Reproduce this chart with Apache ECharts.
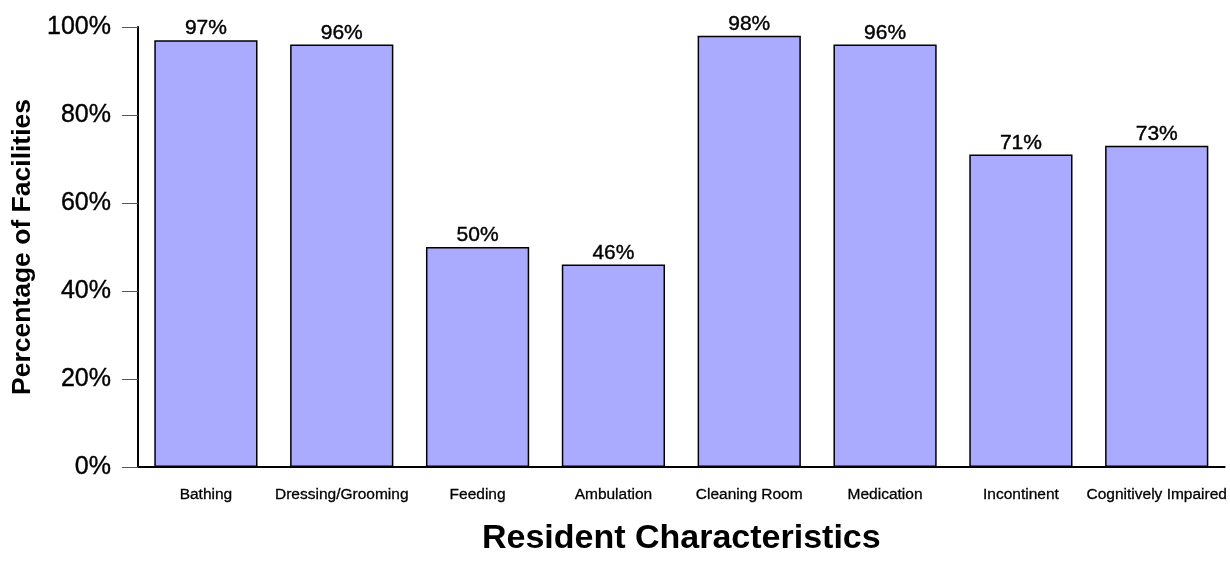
<!DOCTYPE html>
<html><head><meta charset="utf-8">
<script src="https://cdn.jsdelivr.net/npm/echarts@6/dist/echarts.min.js"></script>
<style>html,body{margin:0;padding:0;background:#fff}#c{width:1230px;height:561px}</style>
</head><body><div id="c"></div>
<script>
const categories = ["Bathing","Dressing/Grooming","Feeding","Ambulation","Cleaning Room","Medication","Incontinent","Cognitively Impaired"];
const values = [97,96,50,46,98,96,71,73];
const yTicks = [0,20,40,60,80,100];
const FONT = "'Liberation Sans', Arial, sans-serif";
const chart = echarts.init(document.getElementById('c'), null, {width:1230, height:561});
chart.setOption({
  animation:false,
  grid:{left:138,width:1088,top:27,height:451,containLabel:false},
  xAxis:{
    type:'category', data:categories,
    name:'Resident Characteristics', nameLocation:'middle', nameGap:55,
    nameTextStyle:{fontFamily:FONT,fontSize:34,fontWeight:'bold',color:'#000'},
    axisLine:{lineStyle:{color:'#000',width:2}},
    axisTick:{alignWithLabel:true,length:10,lineStyle:{color:'#555',width:1}},
    axisLabel:{fontFamily:FONT,fontSize:15.5,color:'#000',margin:20,interval:0,
      textBorderColor:'#000',textBorderWidth:0.3}
  },
  yAxis:{
    type:'value', min:0, max:100, interval:20,
    name:'Percentage of Facilities', nameLocation:'middle', nameGap:101,
    nameTextStyle:{fontFamily:FONT,fontSize:26.5,fontWeight:'bold',color:'#000'},
    axisLine:{show:true,lineStyle:{color:'#000',width:2}},
    axisTick:{show:true,length:16,lineStyle:{color:'#555',width:1}},
    splitLine:{show:false},
    axisLabel:{fontFamily:FONT,fontSize:25,color:'#000',margin:27,
      textBorderColor:'#000',textBorderWidth:0.4,
      formatter:function(v){return yTicks.indexOf(v)>=0? v+'%':'';}}
  },
  series:[{
    type:'bar', data:values, barWidth:'76%',
    itemStyle:{color:'#aaaaff',borderColor:'#000',borderWidth:1.5},
    label:{show:true,position:'top',distance:1,fontFamily:FONT,fontSize:21,color:'#000',
      textBorderColor:'#000',textBorderWidth:0.4,formatter:'{c}%'}
  }]
});
</script></body></html>
